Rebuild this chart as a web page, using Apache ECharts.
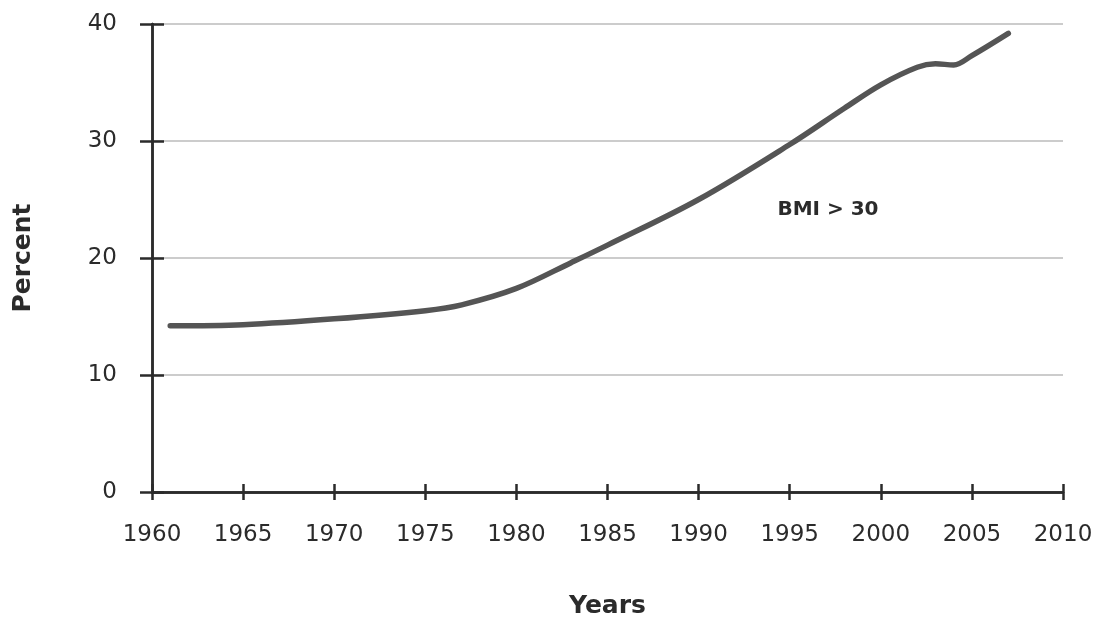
<!DOCTYPE html>
<html>
<head>
<meta charset="utf-8">
<script src="https://cdn.jsdelivr.net/npm/echarts@6/dist/echarts.min.js"></script>
<style>
html,body{margin:0;padding:0;background:#fff;}
#chart{width:1094px;height:621px;}
</style>
</head>
<body>
<div id="chart"></div>
<script>
var years  = [1961, 1965, 1970, 1975, 1977, 1980, 1983, 1985, 1990, 1995, 1998, 2000, 2002, 2003, 2004, 2005, 2007];
var values = [14.2, 14.3, 14.8, 15.5, 16.0, 17.4, 19.6, 21.1, 25.0, 29.7, 32.8, 34.8, 36.3, 36.6, 36.5, 37.3, 39.2];
var annotationPos = [1997.1, 24.1];
var annotationText = 'BMI > 30';
var xTitle = 'Years';
var yTitle = 'Percent';

var font = 'DejaVu Sans';
var dark = '#2b2b2b';

var chart = echarts.init(document.getElementById('chart'));
var data = years.map(function (y, i) { return [y, values[i]]; });

var baseX = {
  type: 'value', min: 1960, max: 2010, interval: 5, gridIndex: 0,
  axisLine: { show: true, lineStyle: { color: dark, width: 2.5 } },
  splitLine: { show: false }
};
var baseY = {
  type: 'value', min: 0, max: 40, interval: 10, gridIndex: 0,
  axisLine: { show: true, lineStyle: { color: dark, width: 2.5 } }
};

chart.setOption({
  animation: false,
  grid: { left: 152, right: 31, top: 24, bottom: 129, containLabel: false, outerBoundsMode: 'none' },
  xAxis: [
    Object.assign({}, baseX, {
      name: xTitle, nameLocation: 'middle', nameGap: 102,
      nameTextStyle: { fontFamily: font, fontWeight: 'bold', fontSize: 25, color: dark },
      axisTick: { show: true, inside: false, length: 8, lineStyle: { color: dark, width: 2.5 } },
      axisLabel: { show: true, margin: 32, fontFamily: font, fontSize: 23, color: dark, fontWeight: 500,
        formatter: function (v) { return String(v); } }
    }),
    Object.assign({}, baseX, {
      position: 'bottom',
      axisTick: { show: true, inside: true, length: 8, lineStyle: { color: dark, width: 2.5 } },
      axisLabel: { show: false }
    })
  ],
  yAxis: [
    Object.assign({}, baseY, {
      name: yTitle, nameLocation: 'middle', nameGap: 116,
      nameTextStyle: { fontFamily: font, fontWeight: 'bold', fontSize: 25, color: dark },
      axisTick: { show: true, inside: false, length: 12, lineStyle: { color: dark, width: 2.5 } },
      axisLabel: { show: true, margin: 35, fontFamily: font, fontSize: 23, color: dark, fontWeight: 500 },
      splitLine: { show: true, lineStyle: { color: '#cccccc', width: 2 } }
    }),
    Object.assign({}, baseY, {
      position: 'left',
      axisTick: { show: true, inside: true, length: 12, lineStyle: { color: dark, width: 2.5 } },
      axisLabel: { show: false },
      splitLine: { show: false }
    })
  ],
  series: [
    {
      type: 'line', data: data, smooth: 0.35, showSymbol: false, symbol: 'none',
      lineStyle: { color: '#555555', width: 5.5, cap: 'round' },
      z: 5
    },
    {
      type: 'scatter', data: [annotationPos], symbolSize: 1,
      itemStyle: { color: 'rgba(0,0,0,0)', opacity: 1 },
      label: { show: true, position: 'inside', formatter: annotationText, opacity: 1,
        fontFamily: font, fontWeight: 'bold', fontSize: 20, color: dark },
      silent: true
    }
  ]
});
</script>
</body>
</html>
